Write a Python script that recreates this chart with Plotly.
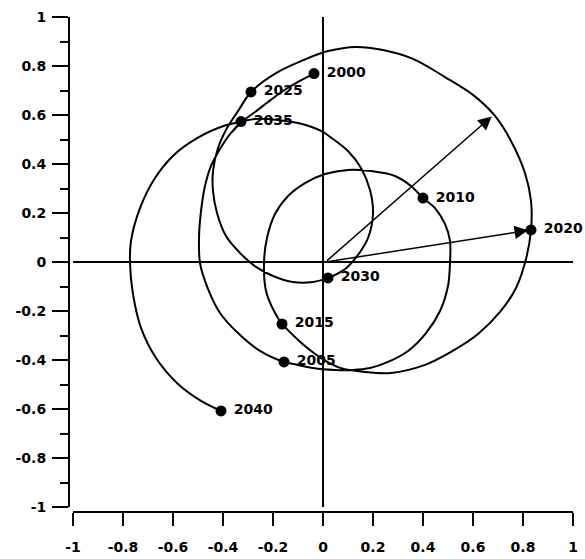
import plotly.graph_objects as go

# Path of the curve, traced in four segments (data units)
seg1_x = [-0.036, -0.100, -0.160, -0.220, -0.272, -0.320, -0.372, -0.412, -0.448, -0.472, -0.488, -0.496, -0.492, -0.460, -0.412, -0.340, -0.252, -0.156]
seg1_y = [0.769, 0.735, 0.698, 0.653, 0.612, 0.576, 0.522, 0.461, 0.392, 0.310, 0.208, 0.098, -0.004, -0.110, -0.208, -0.290, -0.363, -0.408]

seg2_x = [-0.100, -0.040, 0.048, 0.120, 0.188, 0.260, 0.340, 0.412, 0.468, 0.500, 0.508, 0.508, 0.488, 0.448, 0.400, 0.352, 0.288, 0.192, 0.100, 0.008, -0.072, -0.140, -0.192, -0.224, -0.236, -0.228, -0.196, -0.164]
seg2_y = [-0.420, -0.433, -0.441, -0.441, -0.433, -0.408, -0.363, -0.290, -0.200, -0.098, -0.004, 0.086, 0.155, 0.220, 0.261, 0.310, 0.351, 0.371, 0.376, 0.359, 0.322, 0.269, 0.196, 0.098, -0.004, -0.118, -0.200, -0.253]

seg3_x = [-0.120, -0.072, -0.008, 0.072, 0.168, 0.272, 0.408, 0.512, 0.620, 0.708, 0.772, 0.812, 0.832, 0.832, 0.808, 0.752, 0.688, 0.600, 0.488, 0.360, 0.240, 0.132, 0.020, -0.088, -0.188, -0.288]
seg3_y = [-0.298, -0.343, -0.392, -0.433, -0.449, -0.453, -0.420, -0.367, -0.294, -0.204, -0.106, 0.012, 0.131, 0.249, 0.363, 0.494, 0.596, 0.682, 0.755, 0.829, 0.865, 0.878, 0.861, 0.820, 0.771, 0.694]

seg4_x = [-0.340, -0.384, -0.420, -0.440, -0.440, -0.424, -0.388, -0.332, -0.268, -0.200, -0.120, -0.040, 0.020, 0.088, 0.140, 0.180, 0.200, 0.188, 0.152, 0.100, 0.040, -0.008, -0.100, -0.180, -0.272, -0.328, -0.392, -0.500, -0.592, -0.672, -0.732, -0.768, -0.772, -0.760, -0.728, -0.668, -0.580, -0.488, -0.408]
seg4_y = [0.616, 0.547, 0.465, 0.371, 0.290, 0.200, 0.106, 0.037, -0.020, -0.057, -0.082, -0.082, -0.065, -0.029, 0.029, 0.098, 0.196, 0.294, 0.384, 0.453, 0.502, 0.535, 0.567, 0.580, 0.584, 0.573, 0.557, 0.508, 0.441, 0.343, 0.220, 0.086, -0.004, -0.131, -0.269, -0.392, -0.498, -0.567, -0.608]

# Labelled years
years = ["2000", "2005", "2010", "2015", "2020", "2025", "2030", "2035", "2040"]
year_x = [-0.036, -0.156, 0.400, -0.164, 0.832, -0.288, 0.020, -0.328, -0.408]
year_y = [0.769, -0.408, 0.261, -0.253, 0.131, 0.694, -0.065, 0.573, -0.608]

# Arrows from origin
arrow_from = (0.01, 0.0)
arrow_tips_x = [0.684, 0.832]
arrow_tips_y = [0.602, 0.131]

# Tick labels
tick_vals = [-1, -0.8, -0.6, -0.4, -0.2, 0, 0.2, 0.4, 0.6, 0.8, 1]
tick_text = ["-1", "-0.8", "-0.6", "-0.4", "-0.2", "0", "0.2", "0.4", "0.6", "0.8", "1"]

path_x = seg1_x + seg2_x + seg3_x + seg4_x
path_y = seg1_y + seg2_y + seg3_y + seg4_y

FONT = "DejaVu Sans"

fig = go.Figure()
fig.add_trace(go.Scatter(
    x=path_x, y=path_y, mode="lines",
    line=dict(color="black", width=2, shape="spline", smoothing=0.9),
    hoverinfo="skip", showlegend=False, cliponaxis=False,
))
fig.add_trace(go.Scatter(
    x=year_x, y=year_y, mode="markers+text",
    marker=dict(color="black", size=11),
    text=[" " + y for y in years], textposition="middle right",
    textfont=dict(family=FONT, size=14, color="black", weight="bold"),
    showlegend=False, cliponaxis=False,
))

for tx, ty in zip(arrow_tips_x, arrow_tips_y):
    fig.add_annotation(
        x=tx, y=ty, ax=arrow_from[0], ay=arrow_from[1],
        xref="x", yref="y", axref="x", ayref="y",
        showarrow=True, arrowhead=2, arrowsize=1.8, arrowwidth=1.5,
        arrowcolor="black", text="", standoff=3,
    )

W, H = 585, 559
ml, mr, mt, mb = 60, 10, 17, 39
pw = W - ml - mr
ph = H - mt - mb

fig.update_layout(
    width=W, height=H,
    margin=dict(l=ml, r=mr, t=mt, b=mb, autoexpand=False),
    plot_bgcolor="white", paper_bgcolor="white",
    showlegend=False,
    xaxis=dict(
        range=[-1, 1], domain=[(73 - ml) / pw, (573 - ml) / pw],
        anchor="free", position=(H - mb - 512) / ph, automargin=False,
        tickvals=tick_vals, ticktext=tick_text,
        ticks="outside", ticklen=13, tickwidth=2, tickcolor="black",
        showline=True, linecolor="black", linewidth=2,
        showgrid=False, zeroline=True, zerolinecolor="black", zerolinewidth=2,
        tickfont=dict(family=FONT, size=14, color="black", weight="bold"),
        ticklabelstandoff=9,
    ),
    yaxis=dict(
        range=[-1, 1], domain=[(H - mb - 507) / ph, 1],
        anchor="free", position=(69 - ml) / pw, automargin=False,
        tickvals=tick_vals, ticktext=tick_text,
        ticks="outside", ticklen=16, tickwidth=2, tickcolor="black",
        minor=dict(ticks="outside", ticklen=8, tickwidth=2, tickcolor="black", dtick=0.1, showgrid=False),
        showline=True, linecolor="black", linewidth=2,
        showgrid=False, zeroline=True, zerolinecolor="black", zerolinewidth=2,
        tickfont=dict(family=FONT, size=14, color="black", weight="bold"),
        ticklabelstandoff=3,
    ),
)

post = (
    "document.documentElement.style.overflow='hidden';"
    "document.body.style.margin='0';"
    "document.body.style.overflow='hidden';"
)

fig.write_html("out.html", config={"displayModeBar": False}, post_script=post)
